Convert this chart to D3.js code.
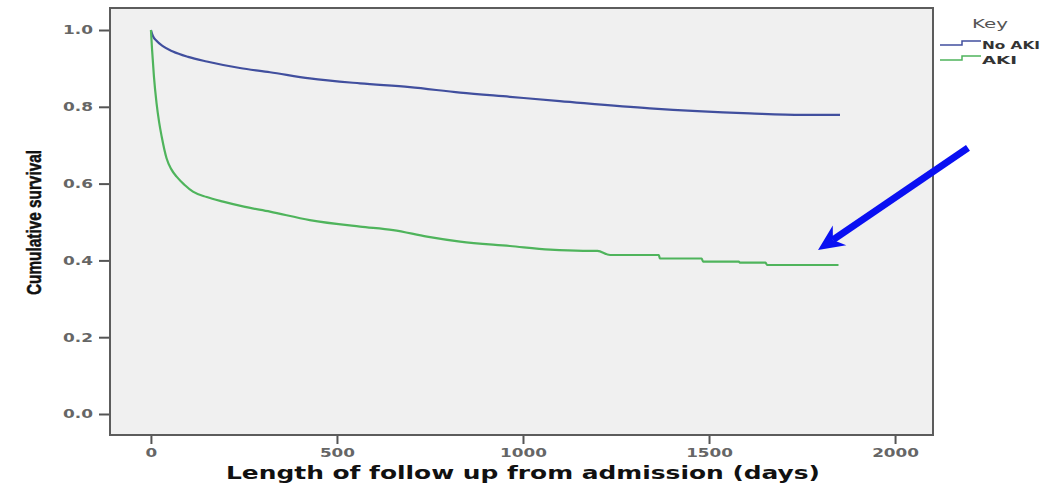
<!DOCTYPE html>
<html>
<head>
<meta charset="utf-8">
<script src="https://cdn.jsdelivr.net/npm/d3@7"></script>
<style>
  html, body { margin: 0; padding: 0; background: #ffffff; }
  svg { display: block; }
</style>
</head>
<body>
<svg id="chart" width="1062" height="483"></svg>
<script>
// Kaplan-Meier cumulative survival by AKI status
const noAkiDays = [0, 5, 15, 32, 59, 100, 150, 239, 320, 427, 562, 696, 831, 965, 1099, 1341, 1610, 1750, 1852];
const noAkiSurv = [1.0, 0.985, 0.972, 0.958, 0.944, 0.93, 0.918, 0.901, 0.89, 0.874, 0.861, 0.851, 0.837, 0.826, 0.815, 0.796, 0.783, 0.779, 0.779];

const akiDays = [0, 3, 8, 15, 22, 29, 42, 55, 69, 90, 113, 150, 194, 250, 320, 427, 562, 651, 742, 831, 965, 1073, 1161, 1200, 1234, 1365, 1368, 1480, 1484, 1580, 1583, 1652, 1656, 1848];
const akiSurv = [1.0, 0.95, 0.88, 0.81, 0.76, 0.722, 0.666, 0.637, 0.618, 0.597, 0.579, 0.565, 0.553, 0.54, 0.527, 0.505, 0.488, 0.479, 0.462, 0.449, 0.4375, 0.428, 0.425, 0.425, 0.414, 0.414, 0.405, 0.405, 0.397, 0.397, 0.394, 0.394, 0.388, 0.388];

const xTicks = [0, 500, 1000, 1500, 2000];
const yTicks = [0.0, 0.2, 0.4, 0.6, 0.8, 1.0];

const seriesNames = ["No AKI", "AKI"];
const seriesColors = ["#414f9e", "#4fb45c"];

// arrow annotation pointing at the AKI curve end (days, survival)
const arrowFrom = [2196, 0.693];
const arrowTo = [1793, 0.427];

const svg = d3.select("#chart");
const frame = { left: 110, right: 933, top: 8, bottom: 435 };

const x = d3.scaleLinear().domain([-110, 2102]).range([frame.left, frame.right]);
const y = d3.scaleLinear().domain([-0.0547, 1.0573]).range([frame.bottom, frame.top]);

// plot background
svg.append("rect")
  .attr("x", frame.left).attr("y", frame.top)
  .attr("width", frame.right - frame.left).attr("height", frame.bottom - frame.top)
  .attr("fill", "#f0f0f0");

// curves
const line = d3.line().x(d => x(d[0])).y(d => y(d[1])).curve(d3.curveMonotoneX);
const series = [
  noAkiDays.map((d, i) => [d, noAkiSurv[i]]),
  akiDays.map((d, i) => [d, akiSurv[i]])
];
series.forEach((s, i) => {
  svg.append("path")
    .attr("d", line(s))
    .attr("fill", "none")
    .attr("stroke", seriesColors[i])
    .attr("stroke-width", 2.2)
    .attr("stroke-linejoin", "round");
});

// frame
svg.append("rect")
  .attr("x", frame.left).attr("y", frame.top)
  .attr("width", frame.right - frame.left).attr("height", frame.bottom - frame.top)
  .attr("fill", "none").attr("stroke", "#5c5c5c").attr("stroke-width", 2);

// y axis
const yAxis = svg.append("g").attr("transform", `translate(${frame.left - 1},0)`)
  .call(d3.axisLeft(y).tickValues(yTicks).tickFormat(d3.format(".1f")).tickSize(10).tickPadding(6));
yAxis.select(".domain").remove();
yAxis.selectAll(".tick line").attr("stroke", "#555").attr("stroke-width", 2);
yAxis.selectAll(".tick text")
  .attr("fill", "#666")
  .attr("font-family", "DejaVu Sans, sans-serif")
  .attr("font-size", 12)
  .attr("font-weight", "bold")
  .attr("textLength", 30)
  .attr("lengthAdjust", "spacingAndGlyphs");

// x axis
const xAxis = svg.append("g").attr("transform", `translate(0,${frame.bottom + 1})`)
  .call(d3.axisBottom(x).tickValues(xTicks).tickFormat(d3.format("d")).tickSize(8).tickPadding(4));
xAxis.select(".domain").remove();
xAxis.selectAll(".tick line").attr("stroke", "#555").attr("stroke-width", 2);
xAxis.selectAll(".tick text")
  .attr("fill", "#666")
  .attr("font-family", "DejaVu Sans, sans-serif")
  .attr("font-size", 12)
  .attr("font-weight", "bold")
  .attr("textLength", d => String(d).length * 11.7)
  .attr("lengthAdjust", "spacingAndGlyphs");

// axis titles
svg.append("text")
  .attr("x", 226).attr("y", 479)
  .attr("font-family", "DejaVu Sans, sans-serif")
  .attr("font-weight", "bold")
  .attr("font-size", 17)
  .attr("fill", "#111")
  .attr("textLength", 594)
  .attr("lengthAdjust", "spacingAndGlyphs")
  .text("Length of follow up from admission (days)");

svg.append("text")
  .attr("transform", "translate(41,295) rotate(-90)")
  .attr("font-family", "Liberation Sans Narrow, Liberation Sans, Arial, sans-serif")
  .attr("font-weight", "bold")
  .attr("font-size", 21)
  .attr("fill", "#111")
  .attr("stroke", "#111")
  .attr("stroke-width", 0.5)
  .attr("textLength", 145)
  .attr("lengthAdjust", "spacingAndGlyphs")
  .text("Cumulative survival");

// legend
svg.append("text")
  .attr("x", 972).attr("y", 28)
  .attr("font-family", "DejaVu Sans, sans-serif")
  .attr("font-size", 13)
  .attr("fill", "#555")
  .attr("textLength", 36)
  .attr("lengthAdjust", "spacingAndGlyphs")
  .text("Key");

const legendRows = [45, 60];
const legendWidths = [58, 35];
seriesNames.forEach((name, i) => {
  const ly = legendRows[i];
  svg.append("path")
    .attr("d", `M940,${ly}H962V${ly - 4}H981`)
    .attr("fill", "none")
    .attr("stroke", seriesColors[i])
    .attr("stroke-width", 1.5);
  svg.append("text")
    .attr("x", 982).attr("y", ly + 4)
    .attr("font-family", "DejaVu Sans, sans-serif")
    .attr("font-size", 11)
    .attr("font-weight", "bold")
    .attr("fill", "#333")
    .attr("textLength", legendWidths[i])
    .attr("lengthAdjust", "spacingAndGlyphs")
    .text(name);
});

// arrow annotation
const ax0 = x(arrowFrom[0]), ay0 = y(arrowFrom[1]);
const ax1 = x(arrowTo[0]), ay1 = y(arrowTo[1]);
const ang = Math.atan2(ay1 - ay0, ax1 - ax0);
const headLen = 26, headHalf = 12, notch = 18;
const bx = ax1 - headLen * Math.cos(ang), by = ay1 - headLen * Math.sin(ang);
const nx = ax1 - notch * Math.cos(ang), ny = ay1 - notch * Math.sin(ang);
const px = -Math.sin(ang), py = Math.cos(ang);
svg.append("line")
  .attr("x1", ax0).attr("y1", ay0)
  .attr("x2", nx).attr("y2", ny)
  .attr("stroke", "#0a10f2").attr("stroke-width", 7);
svg.append("path")
  .attr("d", `M${ax1},${ay1}L${bx + px * headHalf},${by + py * headHalf}L${nx},${ny}L${bx - px * headHalf},${by - py * headHalf}Z`)
  .attr("fill", "#0a10f2");
</script>
</body>
</html>
